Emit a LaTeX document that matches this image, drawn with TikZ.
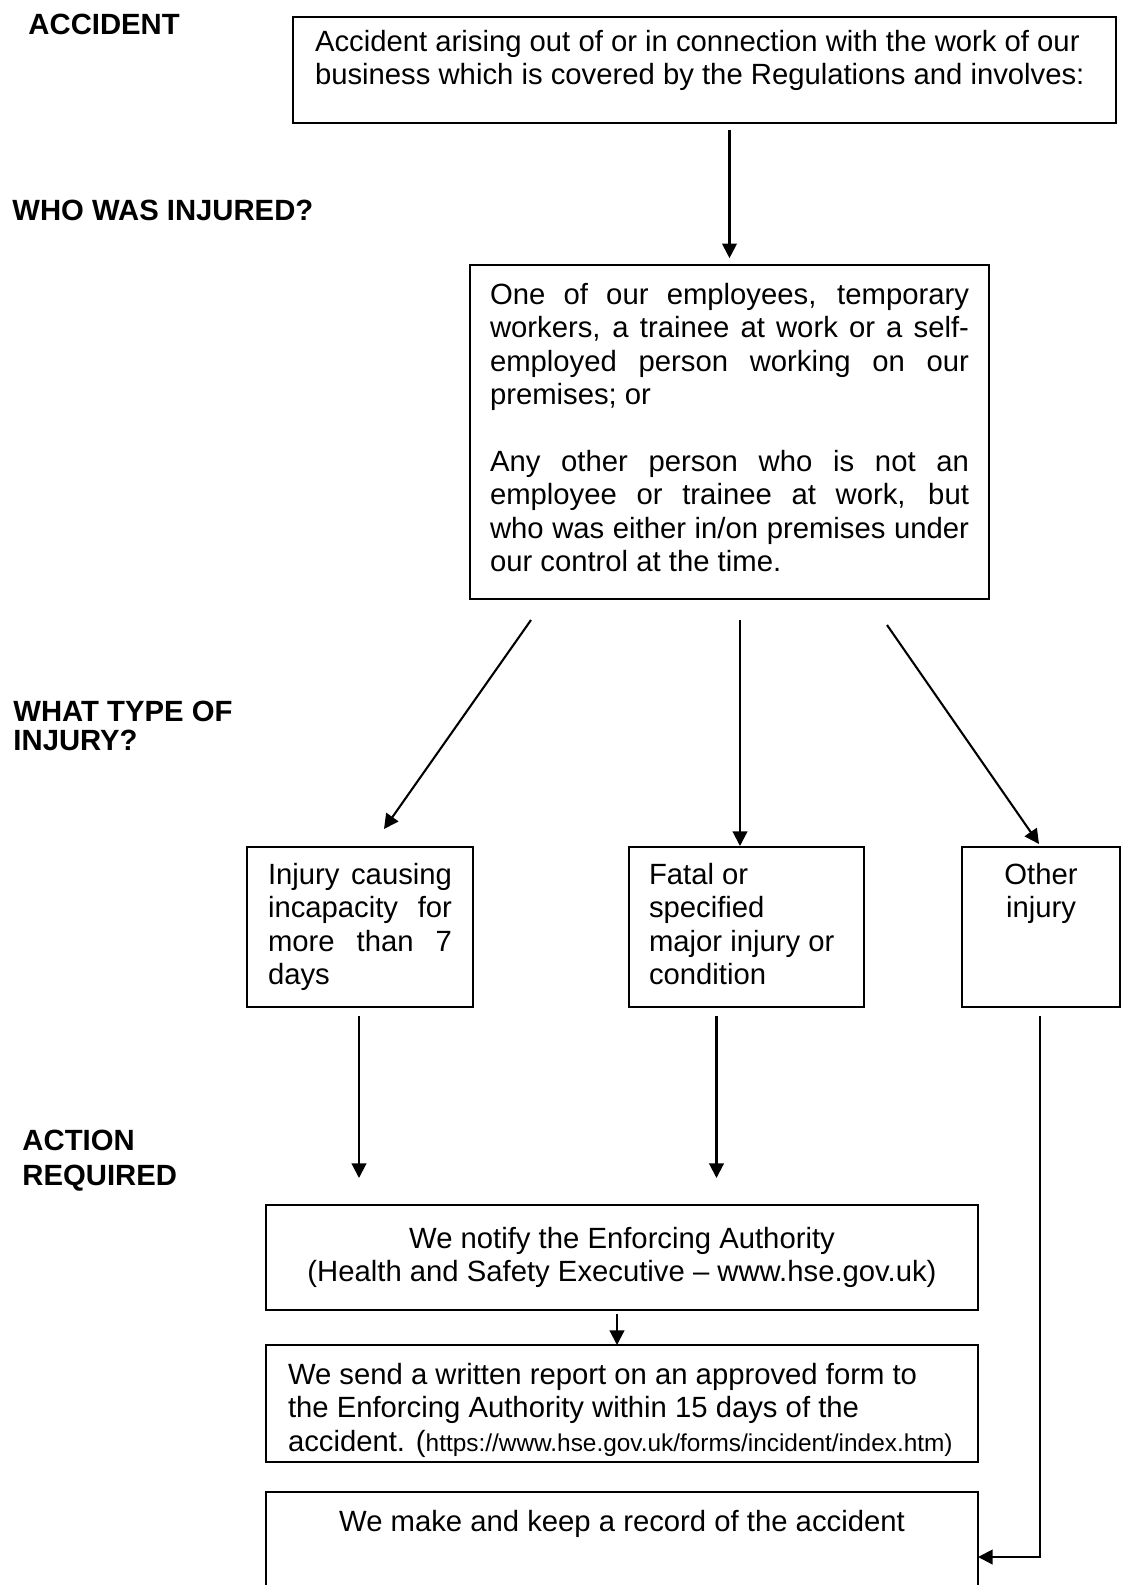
\documentclass[tikz,border=0pt]{standalone}
\usepackage{fontspec}
\setmainfont{Liberation Sans}
\usetikzlibrary{arrows.meta,calc}
\newdimen\pxu \pxu=0.41pt
% text block of a box: width, height (in px), contents, set from the top
\newcommand{\boxtext}[3]{\parbox[t][#2\pxu][t]{#1\pxu}{#3}}
\hyphenpenalty=10000
\begin{document}
\begin{tikzpicture}[x=\pxu,y=-\pxu,
  every node/.style={font=\fontsize{12}{13.7}\selectfont},
  box/.style={draw,line width=0.85pt,anchor=north west,outer sep=0pt},
  lbl/.style={anchor=north west,inner sep=0pt,align=left},
  arr/.style={line width=0.85pt,-{Triangle[length=6pt,width=6pt]}}]
  \useasboundingbox (0,0) rectangle (1121,1585);

  % Headings on the left
  \node[lbl,font=\fontsize{12}{11.9}\selectfont\bfseries] (hAcc) at (28,14) {ACCIDENT};
  \node[lbl,font=\fontsize{12}{11.9}\selectfont\bfseries] (hWho) at (12,200) {WHO WAS INJURED?};
  \node[lbl,font=\fontsize{12}{11.9}\selectfont\bfseries] (hType) at (13,701) {WHAT TYPE OF\\INJURY?};
  \node[lbl,font=\fontsize{12}{14.35}\selectfont\bfseries] (hAct) at (22,1130) {ACTION\\REQUIRED};

  % Boxes
  \node[box,inner xsep=22*\pxu,inner ysep=13*\pxu] (acc) at (293,17)
    {\boxtext{779}{80}{\raggedright Accident arising out of or in connection with the work of our\\
     business which is covered by the Regulations and involves:}};
  \node[box,inner xsep=20*\pxu,inner ysep=18*\pxu] (who) at (470,265)
    {\boxtext{479}{298}{One of our employees, temporary\linebreak
     workers, a trainee at work or a self-\linebreak
     employed person working on our\linebreak
     premises; or\par\vspace{\baselineskip}
     Any other person who is not an\linebreak
     employee or trainee at work, but\linebreak
     who was either in/on premises under\linebreak
     our control at the time.}};
  \node[box,inner xsep=21*\pxu,inner ysep=16*\pxu] (injA) at (247,847)
    {\boxtext{184}{128}{Injury causing\linebreak incapacity for\linebreak more than 7\linebreak days}};
  \node[box,inner xsep=20*\pxu,inner ysep=16*\pxu] (injB) at (629,847)
    {\boxtext{195}{128}{\raggedright Fatal or\\ specified\\ major injury or\\ condition}};
  \node[box,inner xsep=12*\pxu,inner ysep=16*\pxu] (injC) at (962,847)
    {\boxtext{134}{128}{\centering Other\\ injury}};
  \node[box,inner xsep=22*\pxu,inner ysep=22*\pxu] (notify) at (266,1205)
    {\boxtext{668}{61}{\centering We notify the Enforcing Authority\\
     (Health and Safety Executive -- www.hse.gov.uk)}};
  \node[box,inner xsep=22*\pxu,inner ysep=18*\pxu] (send) at (266,1345)
    {\boxtext{668}{81}{\raggedright We send a written report on an approved form to\\
     the Enforcing Authority within 15 days of the\\
     accident. ({\fontsize{10}{13.7}\selectfont https://www.hse.gov.uk/forms/incident/index.htm)}}};
  \node[box,inner xsep=22*\pxu,inner ysep=18*\pxu] (rec) at (266,1492)
    {\boxtext{668}{104}{\centering We make and keep a record of the accident}};

  % Arrows
  \draw[arr,shorten <=2.8pt,shorten >=2.8pt] (acc.south -| who.north) -- (who.north);
  \draw[arr] ($(who.south west)+(61,21)$) -- ($(injA.north)+(24,-18)$);
  \draw[arr] ($(who.south)+(10.5,21)$) -- ($(injB.north)+(-6.5,-1)$);
  \draw[arr] ($(who.south east)+(-102,26)$) -- ($(injC.north)+(-2,-3)$);
  \draw[arr] ($(injA.south)+(-1,9)$) -- ($(injA.south |- notify.north)+(-1,-27)$);
  \draw[arr] ($(injB.south)+(-30,9)$) -- ($(injB.south |- notify.north)+(-30,-27)$);
  \draw[arr] ($(notify.south)+(-5,4)$) -- ($(send.north)+(-5,0)$);
  \draw[arr] ($(injC.south)+(-1,9)$) |- ($(rec.north east)+(0,65)$);
\end{tikzpicture}
\end{document}
